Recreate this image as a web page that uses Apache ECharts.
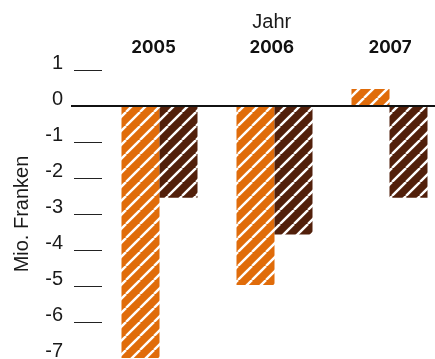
<!DOCTYPE html>
<html>
<head>
<meta charset="utf-8">
<script src="https://cdn.jsdelivr.net/npm/echarts@6/dist/echarts.min.js"></script>
<style>
  html, body { margin: 0; padding: 0; background: #fff; }
  #chart { width: 435px; height: 359px; }
</style>
</head>
<body>
<div id="chart"></div>
<script>
// Jahre und Werte (Mio. Franken)
const years = ['2005', '2006', '2007'];
const seriesA = [-7.0, -4.97, 0.47];
const seriesB = [-2.55, -3.57, -2.55];
const yTicks = [1, -1, -2, -3, -4, -5, -6];

const ORANGE = '#e06c0a';
const BROWN = '#52200b';

// diagonal white hatching on a solid fill
function hatch(color) {
  const p = 14;
  const c = document.createElement('canvas');
  c.width = p; c.height = p;
  const g = c.getContext('2d');
  g.fillStyle = color;
  g.fillRect(0, 0, p, p);
  g.strokeStyle = '#ffffff';
  g.lineWidth = 2.4;
  for (const o of [-p, 0, p]) {
    g.beginPath();
    g.moveTo(o, p);
    g.lineTo(o + p, 0);
    g.stroke();
  }
  return { image: c, repeat: 'repeat' };
}

const thin = 'Liberation Sans';
const chart = echarts.init(document.getElementById('chart'), null, { renderer: 'canvas' });

chart.setOption({
  animation: false,
  backgroundColor: '#ffffff',
  grid: [
    { left: 102, right: -12, top: 70, bottom: 1, outerBoundsMode: 'none', containLabel: false },
    { left: 94.4, right: -14.15, top: 70, bottom: 1, outerBoundsMode: 'none', containLabel: false }
  ],
  xAxis: [
    {
      type: 'category', gridIndex: 0, data: years, z: 5,
      axisLine: { onZero: true, lineStyle: { color: '#111', width: 2 } },
      axisTick: { show: false },
      axisLabel: { show: false }
    },
    {
      type: 'category', gridIndex: 1, data: years, position: 'top',
      name: 'Jahr', nameLocation: 'middle', nameGap: 38,
      nameTextStyle: { fontFamily: thin, fontSize: 20, color: '#1a1a1a' },
      axisLine: { show: false },
      axisTick: { show: false },
      axisLabel: {
        margin: 14,
        fontFamily: 'Inter', fontWeight: 'bold', fontSize: 17, color: '#111'
      }
    }
  ],
  yAxis: [
    {
      type: 'value', gridIndex: 0, position: 'left', min: -7, max: 1, interval: 1,
      name: 'Mio. Franken', nameLocation: 'middle', nameGap: 70,
      nameTextStyle: { fontFamily: thin, fontSize: 20, color: '#1a1a1a' },
      axisLine: { show: false },
      axisTick: {
        show: true, length: 28, customValues: yTicks,
        lineStyle: { color: '#222', width: 1 }
      },
      axisLabel: {
        margin: 39, fontFamily: thin, fontSize: 20, color: '#1a1a1a',
        verticalAlign: 'bottom', lineHeight: 13
      },
      splitLine: { show: false }
    },
    {
      type: 'value', gridIndex: 0, position: 'left', offset: 0, min: -7, max: 1, interval: 1,
      axisLine: { show: false },
      axisTick: {
        show: true, length: 31, customValues: [0],
        lineStyle: { color: '#111', width: 2 }
      },
      axisLabel: { show: false },
      splitLine: { show: false }
    },
    {
      type: 'value', gridIndex: 1, min: -7, max: 1, show: false
    }
  ],
  series: [
    {
      name: 'Serie 1', type: 'bar', xAxisIndex: 0, yAxisIndex: 0,
      data: seriesA, barWidth: 38, barGap: '0%',
      itemStyle: { color: hatch(ORANGE) }
    },
    {
      name: 'Serie 2', type: 'bar', xAxisIndex: 0, yAxisIndex: 0,
      data: seriesB, barWidth: 38, barGap: '0%',
      itemStyle: { color: hatch(BROWN) }
    }
  ]
});
</script>
</body>
</html>
